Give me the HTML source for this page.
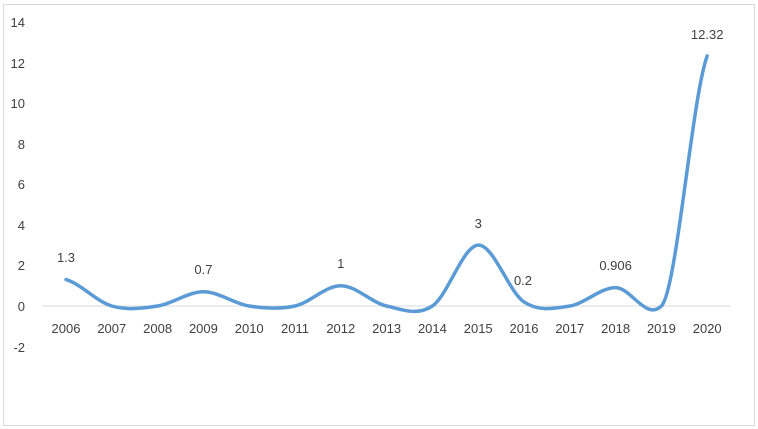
<!DOCTYPE html>
<html><head><meta charset="utf-8"><style>body{margin:0;background:#fff}svg{display:block}</style></head>
<body>
<svg width="758" height="429" viewBox="0 0 758 429" font-family="Liberation Sans, sans-serif" font-size="13" fill="#404040">
<rect x="3.5" y="4.5" width="751" height="421" fill="#fff" stroke="#d9d9d9"/>
<line x1="42" y1="306" x2="730" y2="306" stroke="#d9d9d9"/>
<g text-anchor="end">
<text x="25" y="27">14</text><text x="25" y="68">12</text><text x="25" y="108">10</text>
<text x="25" y="149">8</text><text x="25" y="189">6</text><text x="25" y="230">4</text>
<text x="25" y="270">2</text><text x="25" y="311">0</text><text x="25" y="352">-2</text>
</g>
<g text-anchor="middle">
<text x="66" y="333">2006</text><text x="111.8" y="333">2007</text><text x="157.6" y="333">2008</text>
<text x="203.4" y="333">2009</text><text x="249.2" y="333">2010</text><text x="295" y="333">2011</text>
<text x="340.8" y="333">2012</text><text x="386.6" y="333">2013</text><text x="432.4" y="333">2014</text>
<text x="478.2" y="333">2015</text><text x="524" y="333">2016</text><text x="569.8" y="333">2017</text>
<text x="615.6" y="333">2018</text><text x="661.4" y="333">2019</text><text x="707.2" y="333">2020</text>
<text x="66" y="262">1.3</text><text x="203.4" y="274">0.7</text><text x="340.8" y="268">1</text>
<text x="478.2" y="228">3</text><text x="523" y="285">0.2</text><text x="615.6" y="270">0.906</text>
<text x="707.2" y="39">12.32</text>
</g>
<path fill="none" stroke="#5b9bd5" stroke-width="3.5" stroke-linecap="round" d="M66,279.6 C81.3,284 96.5,301.6 111.8,306 C127.1,310.4 142.3,308.4 157.6,306 C172.9,303.6 188.1,291.8 203.4,291.8 C218.7,291.8 233.9,303.6 249.2,306 C264.5,308.4 279.7,309.4 295,306 C310.3,302.6 325.5,285.7 340.8,285.7 C356.1,285.7 371.3,302.6 386.6,306 C401.9,309.4 417.1,316.2 432.4,306 C447.7,295.9 462.9,245.8 478.2,245.1 C493.5,244.4 508.7,291.8 524,301.9 C539.3,312 554.5,308.4 569.8,306 C585.1,303.6 600.3,287.6 615.6,287.6 C630.9,287.6 646.1,321 661.4,306 C676.7,291 691.9,97.6 707.2,55.9"/>
</svg>
</body></html>
